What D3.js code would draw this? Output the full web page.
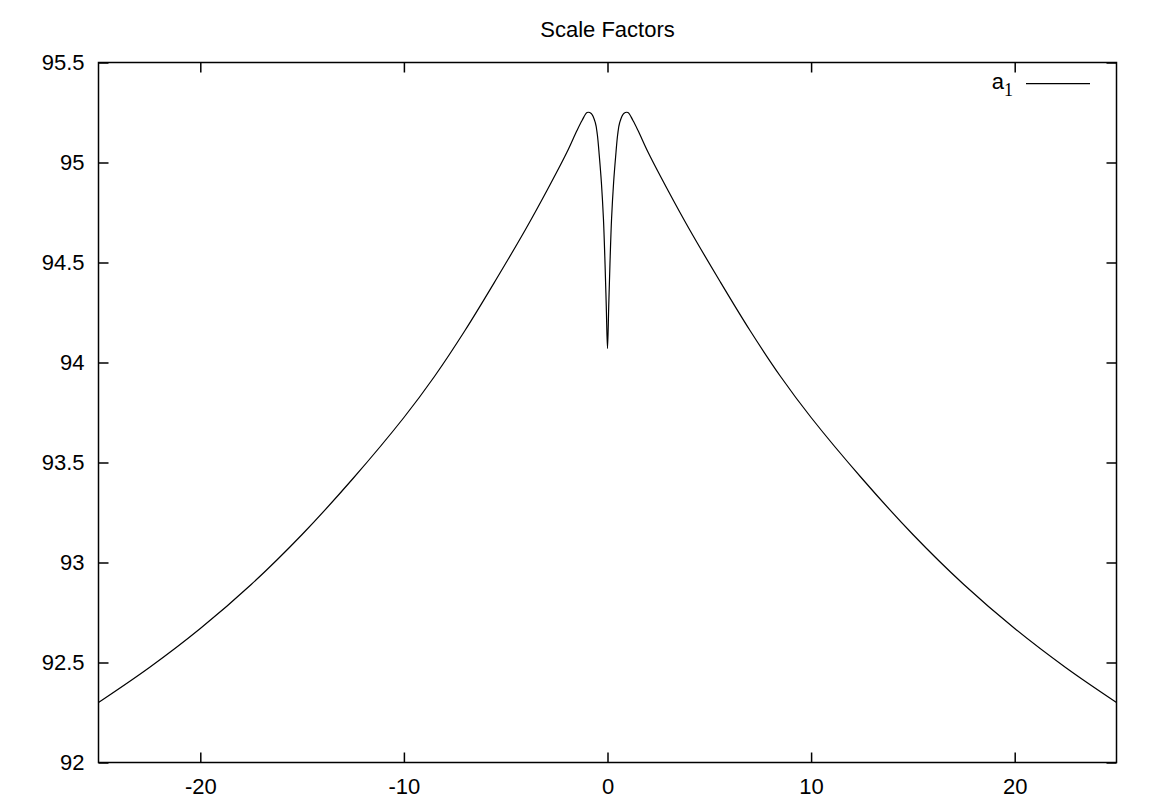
<!DOCTYPE html>
<html>
<head>
<meta charset="utf-8">
<script src="https://cdn.jsdelivr.net/npm/d3@7"></script>
<style>
    body { margin: 0; background: #fff; }
    text { font-family: "Liberation Sans", Arial, sans-serif; fill: #000; }
</style>
</head>
<body>
<div id="chart"></div>
<script>
// values (curve is symmetric about x = 0)
const xs = [-25, -22.5, -20, -17.5, -15, -12.5, -10, -8.5, -7, -5.5, -4, -3, -2, -1.5, -1.25, -1,
    -0.8, -0.6, -0.5, -0.4, -0.3, -0.2, -0.12, -0.06, 0,
    0.06, 0.12, 0.2, 0.3, 0.4, 0.5, 0.6, 0.8,
    1, 1.25, 1.5, 2, 3, 4, 5.5, 7, 8.5, 10, 12.5, 15, 17.5, 20, 22.5, 25];
const a1 = [92.30, 92.475, 92.67, 92.89, 93.14, 93.42, 93.725, 93.93, 94.16, 94.41, 94.67, 94.855, 95.05, 95.16, 95.21, 95.25,
    95.245, 95.20, 95.14, 95.03, 94.90, 94.72, 94.49, 94.28, 94.07,
    94.28, 94.49, 94.72, 94.90, 95.03, 95.14, 95.20, 95.245,
    95.25, 95.21, 95.16, 95.05, 94.855, 94.67, 94.41, 94.16, 93.93, 93.725, 93.42, 93.14, 92.89, 92.67, 92.475, 92.30];
const xTicks = [-20, -10, 0, 10, 20];
const yTicks = [92, 92.5, 93, 93.5, 94, 94.5, 95, 95.5];
const title = "Scale Factors";

let width = 1154, height = 804;
let margin = {top: 62.5, right: 37.5, bottom: 41.5, left: 98.5},
    innerWidth = width - margin.left - margin.right,
    innerHeight = height - margin.top - margin.bottom;
let tickLen = 10;
let fontSize = "22px";

let svg = d3.select("#chart").append("svg")
    .attr("width", width)
    .attr("height", height);

let x = d3.scaleLinear().domain([-25, 25]).range([0, innerWidth]);
let y = d3.scaleLinear().domain([92, 95.5]).range([innerHeight, 0]);

let g = svg.append("g")
    .attr("transform", `translate(${margin.left},${margin.top})`);

// title
svg.append("text")
    .attr("x", margin.left + innerWidth / 2)
    .attr("y", 37)
    .attr("text-anchor", "middle")
    .style("font-size", fontSize)
    .text(title);

// curve
let line = d3.line()
    .x(d => x(d[0]))
    .y(d => y(d[1]))
    .curve(d3.curveCatmullRom.alpha(0.5));

g.append("path")
    .datum(xs.map((v, i) => [v, a1[i]]))
    .attr("fill", "none")
    .attr("stroke", "#000")
    .attr("stroke-width", 1.2)
    .attr("d", line);

// ticks, inward on all four sides (gnuplot mirror style)
let axisStyle = sel => {
    sel.select(".domain").remove();
    sel.selectAll(".tick line").attr("stroke", "#000").attr("stroke-width", 1.5);
    sel.selectAll(".tick text").style("font-size", fontSize);
};

g.append("g")
    .attr("transform", `translate(0,${innerHeight})`)
    .call(d3.axisBottom(x).tickValues(xTicks).tickFormat(d => String(d))
        .tickSizeInner(-tickLen).tickPadding(16))
    .call(axisStyle);

g.append("g")
    .call(d3.axisTop(x).tickValues(xTicks).tickSizeInner(-tickLen).tickFormat(""))
    .call(axisStyle);

g.append("g")
    .call(d3.axisLeft(y).tickValues(yTicks).tickFormat(d => String(d))
        .tickSizeInner(-tickLen).tickPadding(14))
    .call(axisStyle);

g.append("g")
    .attr("transform", `translate(${innerWidth},0)`)
    .call(d3.axisRight(y).tickValues(yTicks).tickSizeInner(-tickLen).tickFormat(""))
    .call(axisStyle);

// frame
g.append("rect")
    .attr("width", innerWidth)
    .attr("height", innerHeight)
    .attr("fill", "none")
    .attr("stroke", "#000")
    .attr("stroke-width", 1.5);

// legend
let legend = g.append("g")
    .attr("transform", `translate(${innerWidth - 90.5},${21.2})`);

let lt = legend.append("text")
    .attr("x", -13)
    .attr("y", 5.3)
    .attr("text-anchor", "end")
    .style("font-size", fontSize);
lt.append("tspan").text("a");
lt.append("tspan")
    .attr("dy", 6.7)
    .style("font-size", "18px")
    .style("font-family", "'Liberation Serif', serif")
    .text("1");

legend.append("line")
    .attr("x1", 0)
    .attr("x2", 64)
    .attr("stroke", "#000")
    .attr("stroke-width", 1.2);
</script>
</body>
</html>
